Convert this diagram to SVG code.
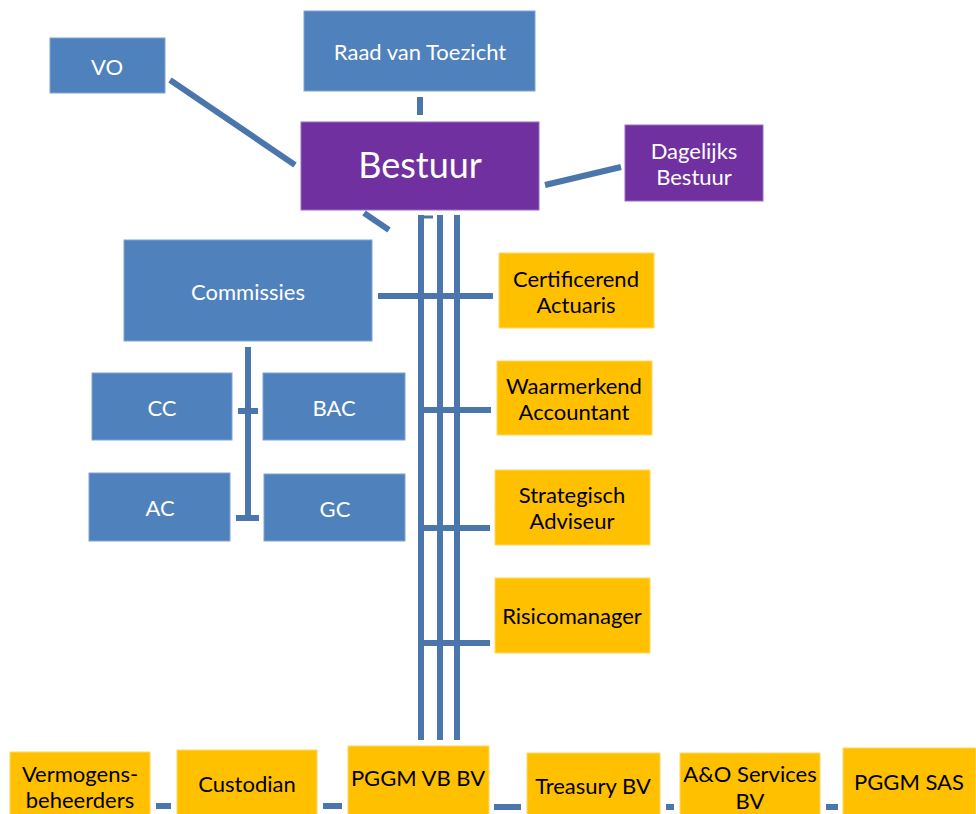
<svg xmlns="http://www.w3.org/2000/svg" width="976" height="814" viewBox="0 0 976 814">
<style>
.b{fill:#4F81BD;stroke:#7FA4D3;stroke-width:1}
.p{fill:#7030A0;stroke:#9A6CC0;stroke-width:1}
.g{fill:#FFC000;stroke:#FFD866;stroke-width:1}
.tw{fill:#ffffff;font-family:Lato,"Liberation Sans",sans-serif;font-size:22px;text-anchor:middle;dominant-baseline:central}
.tk{fill:#000000;font-family:Lato,"Liberation Sans",sans-serif;font-size:22px;text-anchor:middle;dominant-baseline:central}
.c{stroke:#4A76AC;stroke-width:6;fill:none}
</style>
<rect width="976" height="814" fill="#ffffff"/>
<g id="connectors" class="c">
<line x1="170" y1="80" x2="295" y2="165"/>
<line x1="420" y1="97" x2="420" y2="115"/>
<line x1="545" y1="185" x2="621" y2="167"/>
<line x1="364" y1="213" x2="389" y2="230"/>
<line x1="421" y1="215" x2="421" y2="740"/>
<line x1="421" y1="217" x2="433" y2="217" stroke-width="3"/>
<line x1="440" y1="215" x2="440" y2="740"/>
<line x1="457" y1="215" x2="457" y2="740"/>
<line x1="378" y1="296" x2="493" y2="296"/>
<line x1="418" y1="410" x2="491" y2="410"/>
<line x1="418" y1="528" x2="490" y2="528"/>
<line x1="418" y1="643" x2="490" y2="643"/>
<line x1="248" y1="347" x2="248" y2="521"/>
<line x1="238" y1="411" x2="258" y2="411"/>
<line x1="236" y1="518" x2="259" y2="518"/>
<line x1="156" y1="806" x2="171" y2="806"/>
<line x1="323" y1="806" x2="342" y2="806"/>
<line x1="494" y1="807" x2="521" y2="807"/>
<line x1="666" y1="807" x2="674" y2="807"/>
<line x1="826" y1="807" x2="838" y2="807"/>
</g>
<g id="vo"><rect class="b" x="50" y="38" width="115" height="55"/><text class="tw" x="107" y="66">VO</text></g>
<g id="rvt"><rect class="b" x="304" y="11" width="231" height="80"/><text class="tw" x="420" y="51">Raad van Toezicht</text></g>
<g id="bestuur"><rect class="p" x="301" y="122" width="238" height="88"/><text class="tw" x="420" y="164" style="font-size:36px">Bestuur</text></g>
<g id="db"><rect class="p" x="625" y="125" width="138" height="76"/><text class="tw" x="694" y="150">Dagelijks</text><text class="tw" x="694" y="176">Bestuur</text></g>
<g id="commissies"><rect class="b" x="124" y="240" width="248" height="101"/><text class="tw" x="248" y="291">Commissies</text></g>
<g id="cc"><rect class="b" x="92" y="373" width="140" height="67"/><text class="tw" x="162" y="407">CC</text></g>
<g id="bac"><rect class="b" x="263" y="373" width="142" height="67"/><text class="tw" x="334" y="407">BAC</text></g>
<g id="ac"><rect class="b" x="89" y="473" width="141" height="68"/><text class="tw" x="160" y="507">AC</text></g>
<g id="gc"><rect class="b" x="264" y="474" width="141" height="67"/><text class="tw" x="335" y="508">GC</text></g>
<g id="ca"><rect class="g" x="499" y="253" width="155" height="75"/><text class="tk" x="576" y="278">Certificerend</text><text class="tk" x="576" y="304">Actuaris</text></g>
<g id="wa"><rect class="g" x="497" y="361" width="155" height="74"/><text class="tk" x="574" y="385">Waarmerkend</text><text class="tk" x="574" y="411">Accountant</text></g>
<g id="sa"><rect class="g" x="495" y="470" width="155" height="75"/><text class="tk" x="572" y="494">Strategisch</text><text class="tk" x="572" y="520">Adviseur</text></g>
<g id="rm"><rect class="g" x="495" y="578" width="155" height="75"/><text class="tk" x="572" y="615">Risicomanager</text></g>
<g id="vb"><rect class="g" x="10" y="752" width="140" height="66"/><text class="tk" x="80" y="773">Vermogens-</text><text class="tk" x="80" y="799">beheerders</text></g>
<g id="cust"><rect class="g" x="177" y="750" width="140" height="68"/><text class="tk" x="247" y="783">Custodian</text></g>
<g id="pvb"><rect class="g" x="348" y="746" width="141" height="72"/><text class="tk" x="418" y="777">PGGM VB BV</text></g>
<g id="tbv"><rect class="g" x="527" y="753" width="133" height="65"/><text class="tk" x="593" y="785">Treasury BV</text></g>
<g id="ao"><rect class="g" x="680" y="753" width="140" height="65"/><text class="tk" x="750" y="773">A&amp;O Services</text><text class="tk" x="750" y="800">BV</text></g>
<g id="sas"><rect class="g" x="843" y="748" width="133" height="70"/><text class="tk" x="909" y="781">PGGM SAS</text></g>
</svg>
